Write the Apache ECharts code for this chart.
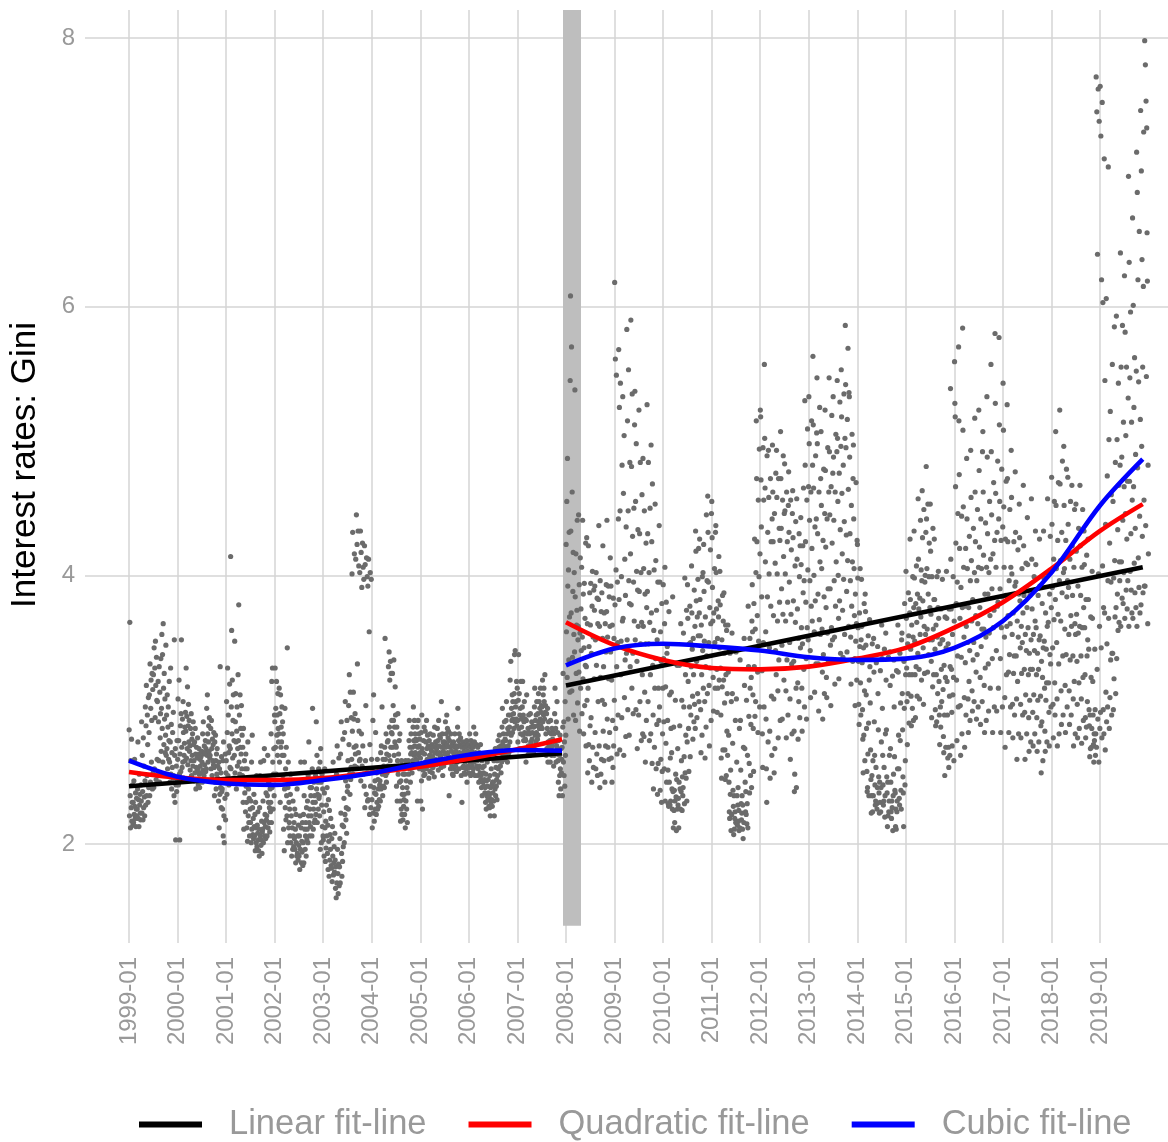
<!DOCTYPE html>
<html>
<head>
<meta charset="utf-8">
<script src="https://cdn.jsdelivr.net/npm/echarts@6/dist/echarts.min.js"></script>
<style>
  html, body { margin: 0; padding: 0; background: #fff; }
  #chart { width: 1168px; height: 1142px; }
</style>
</head>
<body>
<div id="chart"></div>
<script>
// tick labels
var tickYears = [1999, 2000, 2001, 2002, 2003, 2004, 2005, 2006, 2007, 2008, 2009,
                 2010, 2011, 2012, 2013, 2014, 2015, 2016, 2017, 2018, 2019];
var yTicks = [2, 4, 6, 8];

// Gini values, one list per month
var y1999 = [[2.85,2.21,3.65,2.36,2.12,2.62,2.27,2.78,2.17,2.31,2.44,2.14],[2.31,2.16,2.47,2.22,2.63,2.28,2.19,2.38,2.13,2.26,2.34,2.21],
  [2.26,2.41,2.76,2.19,2.33,2.13,2.52,2.29,2.37,2.23,2.18,2.44],[2.32,2.91,2.23,2.66,2.39,2.18,2.79,2.27,2.58,2.35,2.21,2.47],
  [3.02,2.29,2.88,3.18,2.36,2.51,2.96,2.74,2.31,3.09,2.42,2.83],[3.11,2.36,3.34,2.46,3.01,3.22,2.61,2.92,3.27,2.41,3.15,2.53],
  [3.26,2.42,3.46,2.56,3.31,2.94,3.51,3.18,2.48,3.39,3.07,2.63],[3.06,2.51,3.21,2.91,2.62,3.32,2.46,3.13,2.79,2.97,3.38,2.69],
  [3.01,3.56,2.86,3.41,2.61,3.64,3.16,2.74,3.27,2.93,3.08,2.68],[2.81,3.48,2.66,2.96,2.71,3.11,2.56,2.87,3.02,2.63,2.77,3.21],
  [2.61,2.46,2.76,3.31,2.52,2.89,2.41,2.68,2.57,2.83,2.49,2.98],[2.51,2.36,3.52,2.66,2.31,2.71,2.03,2.44,2.58,2.39,2.77,2.47]];
var y2000 = [[2.63,3.08,2.44,2.77,3.22,2.52,2.03,2.67,2.88,2.54,2.97,3.52],[2.72,2.57,2.93,2.61,3.06,2.83,2.49,2.66,2.75,2.87,2.62,2.98],
  [2.84,3.31,2.64,2.95,2.71,3.17,2.59,2.88,3.04,2.76,2.92,2.69],[2.73,2.55,2.86,2.62,2.97,2.51,2.78,2.66,2.82,2.58,2.91,2.74],
  [2.62,2.47,2.76,2.53,2.86,2.67,2.41,2.57,2.72,2.64,2.54,2.79],[2.56,2.44,2.67,2.71,2.52,2.42,2.63,2.58,2.48,2.65,2.53,2.69],
  [2.61,2.46,2.82,2.55,2.91,2.67,2.51,2.73,2.59,2.68,2.77,2.54],[2.71,2.56,3.01,2.66,3.11,2.82,2.61,2.76,2.88,2.69,2.94,2.64],
  [2.66,2.47,2.86,2.56,2.92,2.71,2.51,2.78,2.62,2.74,2.59,2.83],[2.57,2.36,2.76,2.46,2.81,2.62,2.41,2.67,2.52,2.71,2.49,2.58],
  [2.46,2.32,2.61,2.12,2.56,2.37,3.32,2.42,2.53,2.27,2.65,2.39],[2.41,2.26,2.62,2.06,2.76,2.21,2.01,2.47,2.34,2.67,2.18,2.53]];
var y2001 = [[2.62,3.06,2.37,2.83,3.31,2.51,2.96,2.68,2.44,2.73,3.19,2.57],[2.71,4.14,2.56,3.02,3.59,2.82,3.22,2.64,2.92,3.11,2.49,2.77],
  [2.66,3.51,2.53,2.91,3.12,2.76,2.41,2.84,3.02,2.58,2.71,3.26],[2.77,3.78,2.61,2.96,2.52,3.11,2.72,2.86,2.67,3.03,2.56,2.81],
  [2.51,2.72,2.31,2.86,2.11,2.46,2.62,2.38,2.56,2.24,2.67,2.43],[2.31,2.12,2.56,2.02,2.76,2.21,2.41,2.16,2.34,2.06,2.48,2.26],
  [2.16,2.32,2.01,2.61,2.11,2.81,2.27,2.07,2.19,2.04,2.37,2.13],[2.06,2.22,1.95,2.31,2.12,2.01,2.51,1.98,2.14,2.08,2.24,2.03],
  [1.95,2.11,1.91,2.27,2.51,2.06,2.61,1.99,2.03,2.17,1.93,2.09],[2.11,2.32,2.01,2.62,2.16,2.71,2.06,2.22,2.13,2.04,2.38,2.18],
  [2.21,2.06,2.36,2.66,2.12,2.31,2.46,2.16,2.27,2.09,2.41,2.24],[2.31,2.82,2.16,3.21,2.42,3.31,2.61,2.26,2.52,2.71,2.36,2.96]];
var y2002 = [[2.91,3.31,2.72,3.01,2.52,3.21,2.81,2.96,2.66,3.12,2.86,2.76],[2.82,3.16,2.61,2.97,2.31,3.11,2.72,2.87,2.76,3.02,2.66,2.91],
  [2.51,2.82,2.11,2.66,1.95,2.41,3.01,2.27,2.56,2.18,2.72,2.36],[2.21,3.46,2.01,2.42,2.61,2.12,2.31,2.16,2.26,2.06,2.37,2.52],
  [2.01,2.21,1.91,2.46,2.12,1.96,2.32,2.06,1.98,2.16,2.04,2.26],[1.96,2.11,1.86,2.22,2.01,1.91,2.41,1.93,2.06,1.88,2.14,1.99],
  [1.91,2.06,1.81,2.21,1.96,2.61,2.12,1.86,2.02,1.94,2.16,1.84],[2.01,2.22,1.86,2.36,2.61,2.11,1.96,2.06,2.16,1.91,2.27,2.03],
  [2.11,2.32,2.01,2.51,2.21,2.76,2.16,2.06,2.26,2.42,2.13,2.36],[2.21,2.42,2.06,2.56,3.01,2.31,2.11,2.26,2.46,2.16,2.36,2.18],
  [2.31,2.51,2.22,2.91,2.41,2.66,2.16,2.37,2.46,2.26,2.56,2.34],[2.36,2.21,2.61,1.96,2.71,2.46,2.01,2.29,2.52,2.13,2.41,2.06]];
var y2003 = [[2.03,2.24,1.91,2.38,2.56,2.12,1.87,2.17,1.97,2.29,2.06,2.42],[1.93,2.14,1.81,2.33,2.02,1.76,2.25,1.88,2.07,1.96,2.19,1.84],
  [1.82,2.04,1.72,2.13,1.91,2.61,1.77,1.86,1.98,1.79,2.08,1.88],[1.67,1.83,1.6,2.52,1.71,2.73,1.96,1.78,1.63,1.85,2.64,1.69],
  [1.83,2.04,1.71,2.67,2.23,2.91,1.93,1.76,2.14,1.87,2.78,1.98],[2.13,2.34,2.01,2.83,2.22,3.06,2.47,2.18,2.27,2.08,2.92,2.39],
  [2.43,2.62,2.26,3.03,2.74,3.26,2.52,2.37,3.13,2.48,2.57,2.94],[2.63,4.01,2.84,4.32,2.52,3.13,2.93,2.72,4.16,2.58,2.97,2.67],
  [4.12,2.73,4.45,2.57,4.23,3.34,2.92,4.33,2.68,4.07,2.84,2.62],[4.02,2.63,4.33,2.47,4.17,2.82,3.91,2.58,4.24,2.73,4.06,2.52],
  [3.97,2.43,4.22,2.27,4.08,2.62,3.03,2.37,4.13,2.53,3.99,2.32],[3.92,2.33,4.12,2.53,3.58,2.22,2.74,4.02,2.43,2.27,3.97,2.63]];
var y2004 = [[2.33,2.12,2.54,2.92,2.23,3.11,2.42,2.17,2.38,2.47,2.26,2.83],[2.37,2.22,2.53,2.31,2.63,2.26,2.48,2.41,2.28,2.56,2.33,2.44],
  [2.47,2.32,2.68,2.41,2.73,2.56,3.02,2.52,2.36,2.63,2.43,2.58],[2.57,2.42,2.72,3.53,2.63,2.51,2.82,2.46,2.67,2.53,2.76,2.58],
  [2.77,3.32,2.66,3.43,2.87,3.22,2.62,3.36,2.72,3.27,2.83,2.92],[2.82,3.27,2.72,3.03,2.92,3.37,2.66,2.87,2.76,3.17,2.96,2.73],
  [2.72,2.43,2.87,2.32,2.62,2.97,2.52,2.67,2.56,2.77,2.46,2.82],[2.32,2.17,2.47,2.26,2.62,2.22,2.37,2.42,2.18,2.52,2.28,2.33],
  [2.37,2.22,2.52,2.12,2.62,2.32,2.47,2.26,2.42,2.16,2.57,2.38],[2.62,2.52,2.77,2.92,2.56,2.72,2.46,2.67,2.82,2.58,2.68,2.53],
  [2.72,2.62,2.87,3.02,2.77,2.66,2.92,2.73,2.82,2.68,2.78,2.63],[2.77,2.62,2.87,2.32,2.72,2.92,2.66,2.82,2.73,2.56,2.78,2.68]];
var y2005 = [[2.64,2.32,2.83,2.47,2.96,2.71,2.26,2.68,2.55,2.77,2.51,2.87],[2.67,2.52,2.84,2.61,2.76,2.56,2.92,2.71,2.63,2.81,2.58,2.73],
  [2.62,2.49,2.77,2.66,2.54,2.82,2.71,2.63,2.58,2.69,2.74,2.53],[2.65,2.57,2.81,2.6,2.72,2.5,2.87,2.68,2.63,2.76,2.59,2.73],
  [2.71,2.62,2.86,2.67,2.77,2.55,2.92,2.73,2.68,2.81,2.64,2.79],[2.66,2.57,3.06,2.72,2.61,2.82,2.51,2.76,2.69,2.58,2.74,2.63],
  [2.76,2.67,2.91,2.72,2.82,2.61,2.96,2.74,2.86,2.68,2.79,2.84],[2.65,2.36,2.77,2.61,2.72,2.56,2.82,2.63,2.69,2.58,2.74,2.52],
  [2.62,2.51,2.76,2.67,2.56,2.72,2.82,2.64,2.58,2.69,2.73,2.54],[2.72,2.61,2.87,3.01,2.66,2.77,2.56,2.82,2.68,2.74,2.63,2.79],
  [2.62,2.51,2.72,2.31,2.66,2.57,2.76,2.64,2.58,2.69,2.53,2.74],[2.61,2.52,2.72,2.66,2.56,2.77,2.46,2.63,2.69,2.58,2.74,2.53]];
var y2006 = [[2.66,2.57,2.82,2.61,2.72,2.51,2.77,2.63,2.69,2.58,2.74,2.53],[2.72,2.56,2.87,2.61,2.76,2.67,2.51,2.68,2.82,2.63,2.74,2.58],
  [2.62,2.51,2.72,2.56,2.67,2.46,2.68,2.58,2.64,2.53,2.74,2.48],[2.51,2.42,2.62,2.36,2.57,2.46,2.66,2.53,2.43,2.58,2.48,2.38],
  [2.42,2.31,2.52,2.26,2.47,2.36,2.61,2.43,2.33,2.48,2.38,2.28],[2.36,2.27,2.51,2.21,2.42,2.31,2.56,2.33,2.44,2.28,2.46,2.38],
  [2.46,2.32,2.62,2.21,2.52,2.41,2.71,2.36,2.57,2.43,2.48,2.33],[2.62,2.51,2.77,2.56,2.72,2.46,2.81,2.63,2.68,2.58,2.73,2.53],
  [2.72,2.61,2.87,3.01,2.76,2.66,2.82,2.73,2.68,2.91,2.63,2.78],[2.77,2.66,2.92,3.06,2.71,2.82,2.61,2.86,2.73,2.96,2.68,2.83],
  [2.87,2.76,3.22,2.96,3.36,2.81,3.01,2.92,3.11,2.83,3.06,2.93],[2.97,2.86,3.12,3.41,2.91,3.44,3.02,3.06,2.93,3.21,2.88,3.16]];
var y2007 = [[2.92,2.76,3.07,3.41,2.86,3.12,2.71,2.96,3.01,2.82,3.21,2.93],[2.87,2.71,3.02,3.21,2.81,2.96,2.77,2.91,3.06,2.83,2.93,2.78],
  [2.77,2.61,2.92,3.11,2.71,2.82,2.66,2.86,2.73,2.96,2.68,2.83],[2.82,2.66,2.97,2.76,2.87,2.71,2.91,2.78,2.83,2.73,2.88,2.68],
  [2.87,2.71,3.02,3.16,2.81,2.92,2.76,2.96,2.83,3.06,2.88,2.78],[2.97,2.81,3.12,2.91,3.06,2.86,3.01,2.93,3.16,2.88,2.98,3.03],
  [3.02,2.86,3.22,2.91,3.11,2.96,3.16,3.06,2.93,3.26,2.98,3.03],[2.82,2.66,2.97,2.71,2.86,3.01,2.61,2.76,2.91,2.73,2.83,2.68],
  [2.77,2.61,2.92,2.71,2.82,2.66,2.86,2.73,2.78,2.68,2.83,2.58],[2.82,2.66,2.97,3.16,2.76,2.86,2.61,2.91,2.73,3.06,2.71,2.83],
  [2.62,2.46,2.77,2.36,2.66,2.51,2.81,2.56,2.41,2.71,2.53,2.63],[2.72,2.36,2.87,3.27,2.61,2.91,2.51,2.76,2.43,3.06,2.66,2.81]];
var y2008 = [[4.23,3.58,4.55,3.24,4.87,3.92,2.93,4.04,3.37,4.32,3.69,3.13],[5.45,6.08,4.33,3.72,5.7,3.14,4.62,3.39,3.88,4.17,2.96,3.56],
  [4.02,3.43,5.38,3.84,2.92,4.16,3.27,3.63,3.74,4.41,3.05,3.52],[3.62,4.45,3.28,3.93,2.84,3.57,4.13,3.16,3.75,3.44,4.06,2.97],
  [3.54,4.41,3.23,3.86,2.82,3.46,3.94,3.03,3.68,3.33,4.24,2.73],[3.32,4.28,3.07,3.64,2.53,3.16,4.22,2.74,3.47,2.62,3.87,2.88],
  [3.63,3.94,2.94,3.42,2.46,3.77,4.03,2.72,3.54,2.57,3.89,3.23],[3.74,3.92,2.83,3.52,2.56,4.02,3.33,2.67,3.83,2.51,3.64,3.06],
  [3.82,4.37,2.73,3.62,2.42,3.96,3.24,2.52,3.73,2.63,3.87,3.07],[3.53,4.22,2.84,3.32,2.62,3.72,3.04,2.46,3.64,2.73,3.43,3.93],
  [3.73,4.41,2.93,3.54,2.72,3.92,3.23,2.63,3.84,2.83,3.62,4.13],[3.43,3.92,2.64,3.22,2.46,3.63,2.92,2.57,3.83,2.73,3.53,3.07]];
var y2009 = [[6.18,3.78,5.61,2.86,4.04,5.49,3.32,2.67,3.95,3.50,2.96,4.42],[5.68,3.82,5.25,2.70,4.48,5.43,3.26,3.51,3.99,2.94,4.82,3.66],
  [5.33,3.68,4.61,2.66,5.04,3.09,4.12,3.37,3.85,2.80,4.36,3.42],[5.83,3.52,5.15,3.00,4.48,5.53,3.96,2.81,3.79,4.84,3.32,4.16],
  [5.9,3.78,4.81,3.16,5.35,4.29,3.42,2.97,3.95,4.50,3.66,5.12],[5.37,3.52,4.55,3.00,4.98,4.03,3.36,2.71,3.89,4.34,3.62,2.96],
  [5.23,3.88,4.31,3.06,4.84,3.49,4.02,2.77,3.65,4.60,3.26,2.82],[4.87,3.62,4.05,2.80,4.48,3.13,3.86,2.61,3.49,4.24,2.92,3.76],
  [5.27,3.88,4.31,3.06,4.84,3.49,4.02,2.77,3.65,4.50,3.26,2.82],[4.97,3.72,4.25,2.60,4.68,3.33,2.96,2.41,3.59,4.04,2.72,3.16],
  [4.53,3.38,4.11,2.56,3.74,2.89,3.52,2.37,3.95,2.60,3.16,2.92],[4.37,3.02,3.95,2.40,3.58,2.63,3.36,2.31,3.79,2.54,2.82,3.16]];
var y2010 = [[3.93,3.38,2.91,2.56,3.64,4.06,2.32,3.17,2.75,3.80,2.46,3.42],[3.47,2.92,2.55,2.30,2.28,3.73,2.46,3.11,2.29,2.64,2.32,2.86],
  [3.13,2.68,2.41,2.26,3.84,2.39,2.12,2.87,2.25,2.40,2.16,2.32],[3.07,2.52,2.35,2.10,2.48,3.33,2.26,2.71,2.29,2.34,2.12,2.46],
  [3.33,2.88,2.41,2.26,3.64,2.39,2.62,3.07,2.25,2.50,2.36,2.42],[3.57,3.02,2.65,2.30,3.98,2.53,3.26,2.81,2.49,3.74,2.32,2.76],
  [3.93,3.68,3.21,2.86,2.54,3.49,3.02,3.77,2.65,3.50,2.96,3.32],[4.07,3.72,3.45,3.10,2.78,3.53,3.26,2.91,3.89,3.04,3.62,2.86],
  [4.33,4.18,3.81,3.36,2.94,3.69,3.12,3.97,3.55,4.20,3.06,3.72],[4.27,3.82,3.55,3.00,2.68,3.63,3.26,2.81,3.99,3.44,4.02,3.16],
  [4.23,3.88,3.51,3.06,2.64,3.69,3.32,2.87,4.45,3.40,3.96,3.12],[4.59,4.32,3.95,3.50,3.18,2.73,3.76,3.31,4.19,3.64,2.92,4.46]];
var y2011 = [[4.55,4.28,3.91,3.66,3.24,2.99,3.72,3.47,4.05,3.50,3.16,4.32],[4.37,4.02,3.75,3.30,2.98,3.53,3.16,3.81,3.69,4.14,3.22,3.46],
  [4.03,3.78,3.31,2.96,2.64,2.49,3.52,3.17,3.85,2.70,3.66,3.22],[3.87,3.42,3.05,2.70,2.48,3.63,3.26,2.51,3.59,2.84,3.12,2.66],
  [3.63,3.28,2.81,2.46,2.24,2.19,3.42,2.37,2.55,2.10,3.06,2.22],[3.57,3.12,2.75,2.40,2.28,2.07,2.36,2.11,2.19,2.24,2.92,2.16],
  [3.43,3.08,2.61,2.36,2.14,2.29,2.42,2.17,2.25,2.10,2.86,2.12],[3.37,2.92,2.55,2.30,2.18,2.23,2.36,2.11,2.29,2.04,2.72,2.16],
  [3.53,3.18,2.71,2.46,2.24,2.39,2.22,3.07,2.15,2.30,2.66,2.12],[3.77,3.32,2.95,2.60,2.38,3.53,3.16,2.51,2.89,3.24,2.42,3.66],
  [3.93,3.58,3.11,2.86,2.54,3.79,3.32,4.27,2.95,3.60,3.06,4.02],[5.15,4.72,4.25,3.70,3.28,2.83,4.56,3.51,3.99,4.94,3.02,4.16]];
var y2012 = [[5.23,5.18,4.71,4.36,3.84,3.29,2.82,2.57,4.95,3.50,4.56,3.02],[5.57,5.02,4.65,4.10,3.58,2.93,2.56,2.31,4.89,3.84,4.32,2.76],
  [4.93,4.58,4.01,3.46,2.84,2.49,4.72,3.77,4.25,3.10,2.66,4.42],[4.97,4.62,4.25,3.70,3.08,2.53,4.46,2.71,4.09,3.44,4.76,3.26],
  [4.93,4.58,4.01,3.66,3.14,2.79,4.72,3.37,4.35,3.80,4.26,2.92],[5.07,4.72,4.35,3.90,3.48,2.93,4.56,3.71,4.89,4.14,3.22,4.46],
  [4.83,4.48,4.01,3.66,3.14,2.79,4.62,3.37,4.25,3.80,2.96,4.52],[4.77,4.32,3.95,3.50,3.08,2.63,4.56,3.71,4.19,3.34,2.82,4.46],
  [4.63,4.28,3.81,3.36,2.84,2.39,2.52,4.07,3.65,4.40,3.16,2.42],[4.57,4.12,3.75,3.20,2.78,3.53,3.06,4.31,3.99,2.94,4.22,3.46],
  [4.43,4.08,3.61,3.16,2.84,3.49,4.22,3.87,4.65,3.30,3.96,3.02],[5.3,4.82,4.25,3.80,3.38,2.93,4.56,3.61,5.09,4.04,3.52,4.66]];
var y2013 = [[5.33,4.98,4.41,3.96,3.44,3.09,4.62,3.77,5.15,4.20,3.66,4.82],[5.63,5.12,4.65,4.00,3.58,3.13,4.36,3.81,4.89,3.34,4.42,5.06],
  [5.47,4.98,4.31,3.86,3.34,2.99,4.62,3.67,5.25,4.10,3.56,4.72],[5.07,4.52,4.05,3.60,3.28,2.93,4.26,3.41,4.79,3.84,3.12,4.46],
  [5.23,4.78,4.21,3.76,3.24,3.09,4.42,3.57,4.95,3.90,3.36,4.62],[5.47,4.92,4.45,3.90,3.48,3.03,4.66,3.61,5.19,4.24,3.52,4.76],
  [5.33,4.88,4.41,3.96,3.54,3.19,4.62,3.77,5.05,4.10,3.36,4.92],[5.45,5.02,4.55,4.00,3.68,3.23,4.76,3.81,5.29,4.34,3.42,4.96],
  [5.53,5.18,4.61,4.16,3.74,3.39,4.82,3.97,5.35,4.40,3.56,5.02],[5.86,5.42,4.95,4.30,3.88,3.43,5.16,4.11,5.69,4.64,3.62,5.36],
  [5.33,4.88,4.31,3.96,3.54,3.19,4.52,3.77,5.05,4.10,3.36,4.72],[4.97,4.42,4.05,3.70,3.38,3.03,3.86,3.51,4.69,3.64,3.22,4.26]];
var y2014 = [[4.23,3.98,3.61,3.36,3.04,2.89,3.72,3.47,4.05,3.20,2.96,3.52],[3.97,3.62,3.35,3.00,2.78,2.53,3.46,2.81,3.79,3.14,2.62,3.86],
  [3.73,3.48,3.11,2.86,2.54,2.39,2.42,2.67,3.55,2.90,2.36,3.22],[3.67,3.32,3.05,2.70,2.48,2.23,2.36,2.51,3.49,2.24,2.62,2.36],
  [3.53,3.28,2.91,2.66,2.44,2.29,2.32,2.57,3.35,2.30,2.26,2.42],[3.47,3.12,2.85,2.50,2.38,2.23,2.46,2.31,3.29,2.24,2.42,2.76],
  [3.63,3.38,3.01,2.66,2.44,2.29,2.32,2.57,3.45,2.20,2.36,2.82],[3.57,3.22,2.85,2.50,2.38,2.13,2.46,2.21,3.39,2.24,2.32,2.66],
  [3.43,3.18,2.71,2.46,2.24,2.19,2.32,2.27,3.25,2.10,2.36,2.52],[3.37,3.02,2.65,2.40,2.38,2.13,2.26,2.11,3.29,2.24,2.32,2.56],
  [3.63,3.28,2.81,2.56,2.34,2.29,3.42,2.77,3.05,2.40,2.26,3.52],[3.57,3.12,2.85,2.50,2.38,2.13,3.36,3.01,3.79,2.44,2.62,3.26]];
var y2015 = [[4.03,3.68,3.31,3.06,2.74,3.49,3.12,3.87,3.55,2.90,3.26,3.72],[4.27,3.82,3.45,3.10,2.88,3.63,3.26,3.01,3.99,3.54,2.92,3.76],
  [4.33,3.98,3.51,3.26,2.94,3.79,3.32,4.07,3.65,3.10,3.86,3.42],[4.57,4.12,3.75,3.30,3.08,3.83,3.56,4.41,3.69,4.04,3.22,3.96],
  [4.63,4.28,3.81,3.46,3.04,4.49,3.62,3.27,3.95,4.00,3.56,4.32],[4.81,4.42,4.05,3.60,3.28,4.53,3.86,3.41,3.99,4.24,3.52,3.76],
  [4.53,4.18,3.71,3.36,2.94,3.99,3.52,3.17,4.35,3.60,3.26,3.82],[4.27,3.82,3.45,3.00,2.88,3.63,3.26,2.91,3.99,3.54,3.12,3.76],
  [4.03,3.68,3.21,2.96,2.74,3.49,3.02,2.87,3.75,3.30,3.06,3.52],[3.97,3.52,3.15,2.80,2.68,3.33,2.96,2.51,3.69,3.24,2.72,3.46],
  [4.03,3.68,3.21,2.96,2.64,3.49,2.72,2.57,3.75,3.10,2.66,3.32],[5.39,4.12,3.75,3.30,2.98,2.73,3.56,3.11,3.99,3.24,2.62,3.66]];
var y2016 = [[5.59,5.28,5.18,4.66,4.24,3.79,3.22,2.77,3.95,3.40,4.46,3.02],[5.7,5.15,4.75,4.20,3.68,3.03,2.66,3.91,3.39,4.44,2.82,3.76],
  [5.84,5.08,4.51,4.06,3.54,3.09,2.72,3.77,3.35,4.20,2.96,3.62],[4.87,4.42,4.05,3.50,3.08,2.83,3.76,3.21,4.29,3.44,2.92,3.96],
  [4.93,4.58,4.11,3.66,3.14,2.99,3.82,3.37,4.35,3.50,3.06,4.02],[5.17,4.62,4.25,3.70,3.28,2.93,3.96,3.41,4.49,3.64,3.02,4.06],
  [5.23,4.78,4.21,3.76,3.24,2.89,4.42,3.47,4.05,3.60,3.06,4.92],[5.07,4.62,4.15,3.60,3.18,2.83,3.86,3.31,4.39,3.54,2.92,4.06],
  [5.33,4.88,4.31,3.86,3.34,2.99,4.02,3.57,4.55,3.70,3.16,4.12],[5.57,4.92,4.45,3.90,3.38,2.83,4.16,3.61,4.69,3.74,3.02,4.26],
  [5.8,5.28,4.61,4.06,3.44,2.99,4.32,3.77,4.85,3.80,3.16,4.42],[5.77,5.12,4.55,3.90,3.38,2.83,4.26,3.61,4.79,3.84,3.02,4.36]];
var y2017 = [[5.43,5.08,4.51,4.06,3.54,3.09,2.72,4.27,3.85,4.70,3.26,3.62],[5.27,4.72,4.25,3.70,3.28,2.83,3.96,3.41,4.49,3.64,3.02,4.06],
  [4.93,4.58,4.01,3.56,3.04,2.79,3.72,3.27,4.25,3.40,2.96,3.92],[4.77,4.32,3.95,3.40,3.08,2.63,3.66,3.21,4.19,3.54,2.82,3.86],
  [4.53,4.28,3.81,3.46,3.04,2.79,3.62,3.27,4.05,3.50,2.96,3.72],[4.67,4.22,3.85,3.30,2.98,2.63,3.56,3.11,4.09,3.44,2.82,3.76],
  [4.43,4.08,3.61,3.26,2.94,2.69,3.42,3.07,3.85,3.30,2.76,3.52],[4.57,4.12,3.75,3.30,2.98,2.73,3.56,3.11,3.99,3.44,2.82,3.66],
  [4.33,4.08,3.61,3.26,2.94,2.69,3.42,3.07,3.85,3.30,2.76,3.52],[4.27,3.92,3.55,3.10,2.88,2.53,3.36,2.91,3.79,3.24,2.62,3.46],
  [4.33,3.98,3.51,3.16,2.84,2.69,3.72,3.07,3.45,3.20,2.76,3.62],[4.57,4.02,3.65,3.20,2.98,2.73,3.86,3.41,4.29,3.34,3.02,3.76]];
var y2018 = [[4.73,4.38,3.91,3.46,3.04,2.79,4.12,3.67,4.55,3.20,2.96,3.82],[5.07,4.52,4.05,3.50,3.08,2.73,4.26,3.71,4.69,3.34,2.82,3.96],
  [5.23,4.68,4.11,3.66,3.14,2.89,4.32,3.87,4.85,3.40,2.96,4.02],[4.96,4.52,4.05,3.60,3.18,2.83,4.26,3.41,4.79,3.84,3.02,3.96],
  [4.73,4.38,3.91,3.56,3.14,2.89,4.12,3.37,4.55,3.70,2.96,3.62],[4.67,4.22,3.85,3.40,3.08,2.73,4.06,3.21,4.49,3.64,2.82,3.56],
  [4.53,4.18,3.71,3.36,3.04,2.79,3.92,3.57,4.35,3.20,2.86,3.62],[4.67,4.22,3.85,3.40,3.08,2.75,4.06,3.61,4.49,3.24,2.92,3.76],
  [4.33,4.08,3.61,3.26,2.94,2.79,3.82,2.87,4.15,3.40,3.06,3.52],[4.27,3.82,3.45,3.00,2.88,2.65,2.96,2.71,3.69,3.24,2.72,2.86],
  [4.03,3.68,3.21,2.96,2.74,2.61,2.82,2.77,3.45,3.00,2.66,2.82],[7.71,2.72,7.45,3.30,6.39,2.93,7.62,4.01,2.61,7.38,3.62,2.86]];
var y2019 = [[7.64,2.98,7.27,3.46,6.2,2.79,7.52,4.07,6.03,3.00,3.76,2.82],[7.1,3.72,5.45,2.70,4.38,3.13,6.06,2.91,3.49,4.74,3.02,3.96],
  [7.04,3.68,5.01,2.86,4.24,3.09,5.22,3.37,3.95,4.60,2.96,3.42],[5.57,3.42,4.55,3.00,3.98,3.23,5.85,4.11,3.69,4.84,3.12,3.76],
  [5.93,3.38,5.01,3.86,4.34,3.59,5.43,4.67,3.65,4.10,3.96,4.82],[6.4,3.62,5.55,4.10,4.88,3.83,5.86,4.41,3.79,5.14,4.02,4.66],
  [6.23,3.68,5.81,4.46,5.04,3.89,5.55,4.27,3.75,4.70,3.96,5.32],[6.97,3.62,6.33,4.70,5.47,4.03,5.96,4.31,3.89,5.14,3.72,4.56],
  [6.66,3.68,6.01,4.66,5.25,4.09,5.62,3.87,4.35,4.90,3.76,5.52],[7.15,3.62,6.85,4.80,6.2,4.13,5.44,3.91,6.56,4.44,3.72,5.16],
  [7.46,3.78,7.01,4.96,6.35,4.29,5.55,3.87,6.15,7.3,4.56,3.92],[7.98,3.92,7.8,4.37,7.53,5.48,7.33,6.55,6.19,3.64,4.82,4.16]];
var yearly = [y1999, y2000, y2001, y2002, y2003, y2004, y2005, y2006, y2007, y2008, y2009,
              y2010, y2011, y2012, y2013, y2014, y2015, y2016, y2017, y2018, y2019];

// fit lines (decimal years)
var preX = [1999, 2000, 2001, 2002, 2003, 2004, 2005, 2006, 2007, 2007.92];
var linearPre = [2.43, 2.457, 2.484, 2.512, 2.539, 2.567, 2.594, 2.621, 2.648, 2.675];
var quadPre = [2.536, 2.494, 2.476, 2.476, 2.49, 2.53, 2.576, 2.635, 2.705, 2.78];
var cubicPre = [2.62, 2.50, 2.45, 2.44, 2.476, 2.526, 2.60, 2.665, 2.70, 2.695];
var postX = [2008, 2009, 2010, 2011, 2012, 2013, 2014, 2015, 2016, 2017, 2018, 2019, 2019.88];
var linearPost = [3.18, 3.254, 3.328, 3.402, 3.476, 3.55, 3.624, 3.698, 3.772, 3.846, 3.92, 3.994, 4.06];
var quadPost = [3.65, 3.48, 3.37, 3.31, 3.30, 3.32, 3.38, 3.46, 3.61, 3.80, 4.05, 4.33, 4.53];
var cubicPost = [3.33, 3.455, 3.49, 3.47, 3.44, 3.39, 3.37, 3.38, 3.46, 3.66, 4.02, 4.52, 4.865];

var points = [];
yearly.forEach(function (months, yi) {
  months.forEach(function (vals, m) {
    vals.forEach(function (v, j) {
      points.push([tickYears[yi] + (m + (j + 0.5) / vals.length) / 12, v]);
    });
  });
});

function pair(xs, ys) {
  return xs.map(function (x, i) { return [x, ys[i]]; });
}

var font = "'Liberation Sans', Arial, Helvetica, sans-serif";
var grey = '#999999';
var gridColor = '#d4d4d4';

var myChart = echarts.init(document.getElementById('chart'));

function fitLine(name, color, xs, ys) {
  return {
    name: name, type: 'line', data: pair(xs, ys), smooth: 0.35,
    showSymbol: false, symbol: 'none', silent: true, z: 4,
    lineStyle: { color: color, width: 4.6 }, itemStyle: { color: color }
  };
}

var option = {
  animation: false,
  backgroundColor: '#ffffff',
  grid: { left: 85, right: 0, top: 10, bottom: 199, containLabel: false },
  xAxis: {
    type: 'value', min: 1998.094, max: 2020.4, minInterval: 1, maxInterval: 1,
    axisLine: { show: false },
    axisTick: { show: false, customValues: tickYears },
    splitLine: { show: true, lineStyle: { color: gridColor, width: 1.5 } },
    axisLabel: {
      customValues: tickYears, rotate: 90, margin: 14,
      color: grey, fontSize: 24, fontFamily: font,
      formatter: function (v) { return Math.round(v) + '-01'; }
    }
  },
  yAxis: {
    type: 'value', min: 1.263, max: 8.208, minInterval: 2, maxInterval: 2,
    axisLine: { show: false },
    axisTick: { show: false, customValues: yTicks },
    splitLine: { show: true, lineStyle: { color: gridColor, width: 1.5 } },
    axisLabel: {
      customValues: yTicks, margin: 10, color: grey, fontSize: 24, fontFamily: font
    }
  },
  legend: {
    data: ['Linear fit-line', 'Quadratic fit-line', 'Cubic fit-line'],
    left: 139, top: 1107, padding: 0, itemWidth: 63, itemHeight: 6, itemGap: 42,
    icon: 'rect',
    textStyle: { color: grey, fontSize: 34.5, fontFamily: font, padding: [0, 0, 0, 22] }
  },
  graphic: [{
    type: 'text', left: 8, top: 322, rotation: Math.PI / 2,
    style: { text: 'Interest rates: Gini', fill: '#000', font: '35px ' + font }
  }],
  series: [
    {
      name: 'band', type: 'scatter', data: [], z: 1, silent: true,
      markArea: {
        silent: true,
        itemStyle: { color: '#bebebe', opacity: 1 },
        data: [[{ coord: [2007.939, 1.392] }, { coord: [2008.31, 8.208] }]]
      }
    },
    {
      name: 'Gini', type: 'scatter', data: points, symbolSize: 5.2, z: 2, silent: true,
      itemStyle: { color: '#6b6b6b', opacity: 1 }
    },
    fitLine('Linear fit-line', '#000000', [preX[0], preX[preX.length - 1]], [linearPre[0], linearPre[linearPre.length - 1]]),
    fitLine('Linear fit-line', '#000000', [postX[0], postX[postX.length - 1]], [linearPost[0], linearPost[linearPost.length - 1]]),
    fitLine('Quadratic fit-line', '#ff0000', preX, quadPre),
    fitLine('Quadratic fit-line', '#ff0000', postX, quadPost),
    fitLine('Cubic fit-line', '#0000ff', preX, cubicPre),
    fitLine('Cubic fit-line', '#0000ff', postX, cubicPost)
  ]
};

myChart.setOption(option);
</script>
</body>
</html>
